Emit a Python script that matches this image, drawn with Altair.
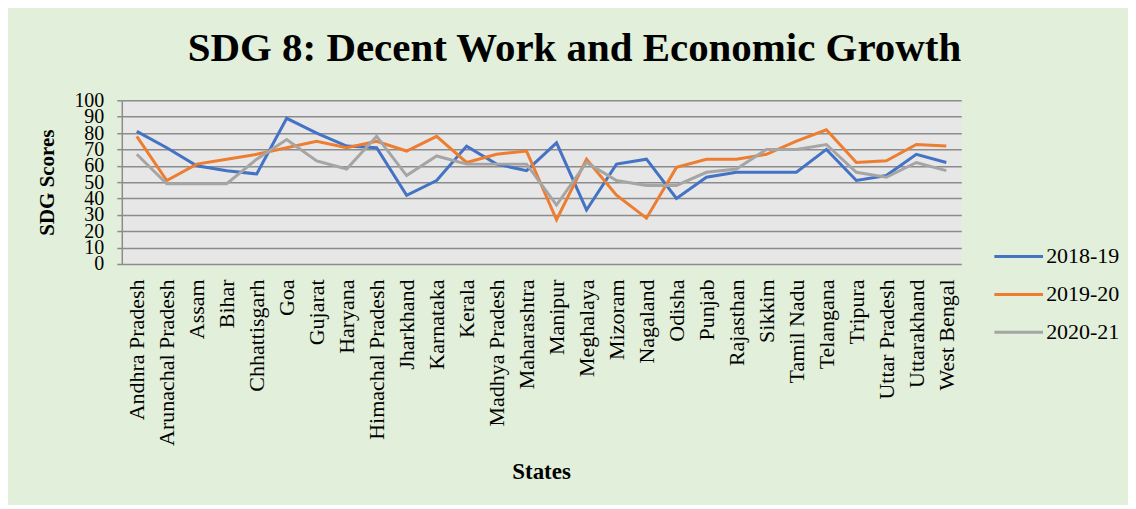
import altair as alt
import pandas as pd

states = ["Andhra Pradesh", "Arunachal Pradesh", "Assam", "Bihar", "Chhattisgarh", "Goa",
          "Gujarat", "Haryana", "Himachal Pradesh", "Jharkhand", "Karnataka", "Kerala",
          "Madhya Pradesh", "Maharashtra", "Manipur", "Meghalaya", "Mizoram", "Nagaland",
          "Odisha", "Punjab", "Rajasthan", "Sikkim", "Tamil Nadu", "Telangana", "Tripura",
          "Uttar Pradesh", "Uttarakhand", "West Bengal"]
years = ["2018-19", "2019-20", "2020-21"]
s2018 = [81, 71, 60, 57, 55, 89, 80, 72, 71, 42, 51, 72, 61, 57, 74, 33, 61, 64, 40, 53, 56, 56, 56, 70, 51, 54, 67, 62]
s2019 = [78, 51, 61, 64, 67, 71, 75, 71, 75, 69, 78, 62, 67, 69, 27, 64, 42, 28, 59, 64, 64, 67, 75, 82, 62, 63, 73, 72]
s2020 = [67, 49, 49, 49, 64, 76, 63, 58, 78, 54, 66, 61, 61, 61, 36, 62, 51, 48, 48, 56, 58, 70, 70, 73, 56, 53, 62, 57]
colors = ["#4472C4", "#ED7D31", "#A5A5A5"]
y_ticks = list(range(0, 101, 10))

rows = []
for yr, vals in zip(years, [s2018, s2019, s2020]):
    for st, v in zip(states, vals):
        rows.append({"State": st, "Year": yr, "Score": v})
df = pd.DataFrame(rows)

FONT = "Liberation Serif"
GRID = "#8c8c8c"

chart = alt.Chart(df).mark_line(strokeWidth=3).encode(
    x=alt.X("State:N", sort=states,
            scale=alt.Scale(type="point", padding=0.5),
            axis=alt.Axis(title="States", labelAngle=-90, labelFont=FONT, labelFontSize=22,
                          labelColor="black", labelPadding=15, ticks=False, domain=False,
                          grid=False, labelOverlap=False,
                          titleFont=FONT, titleFontSize=23, titleFontWeight="bold",
                          titleColor="black", titleX=420, titleY=208,
                          titleAlign="center", titleBaseline="middle")),
    y=alt.Y("Score:Q", scale=alt.Scale(domain=[0, 100], nice=False),
            axis=alt.Axis(title="SDG Scores", values=y_ticks, labelFont=FONT, labelFontSize=20,
                          labelColor="black", labelPadding=13, tickSize=5, tickColor=GRID,
                          tickWidth=1.5, domain=True, domainColor=GRID, domainWidth=1.5,
                          grid=True, gridColor=GRID, gridWidth=1.5, gridOpacity=1,
                          labelOverlap=False, labelBound=False, labelFlush=False,
                          titleFont=FONT, titleFontSize=21, titleFontWeight="bold",
                          titleColor="black", titleAngle=270, titleX=-74, titleY=82,
                          titleAlign="center", titleBaseline="middle")),
    color=alt.Color("Year:N", scale=alt.Scale(domain=years, range=colors),
                    legend=alt.Legend(title=None, orient="none", legendX=877.5, legendY=135.5,
                                      symbolType="M-1.25,0H1.25", symbolSize=1521,
                                      symbolStrokeWidth=3, labelFont=FONT, labelFontSize=22,
                                      labelColor="black", labelOffset=6.5, rowPadding=6,
                                      padding=0)),
).properties(
    width=841,
    height=164,
    autosize=alt.AutoSizeParams(type="none"),
    padding={"left": 114, "top": 92, "right": 167, "bottom": 241},
    background="#e2efda",
    title=alt.TitleParams(text="SDG 8: Decent Work and Economic Growth", font=FONT,
                          fontSize=41, fontWeight="bold", color="black",
                          anchor="middle", dx=33, offset=20),
).configure_view(
    fill="#e7e7e7", stroke=None
)

chart.save("out.html", embed_options={"renderer": "svg", "actions": False})
